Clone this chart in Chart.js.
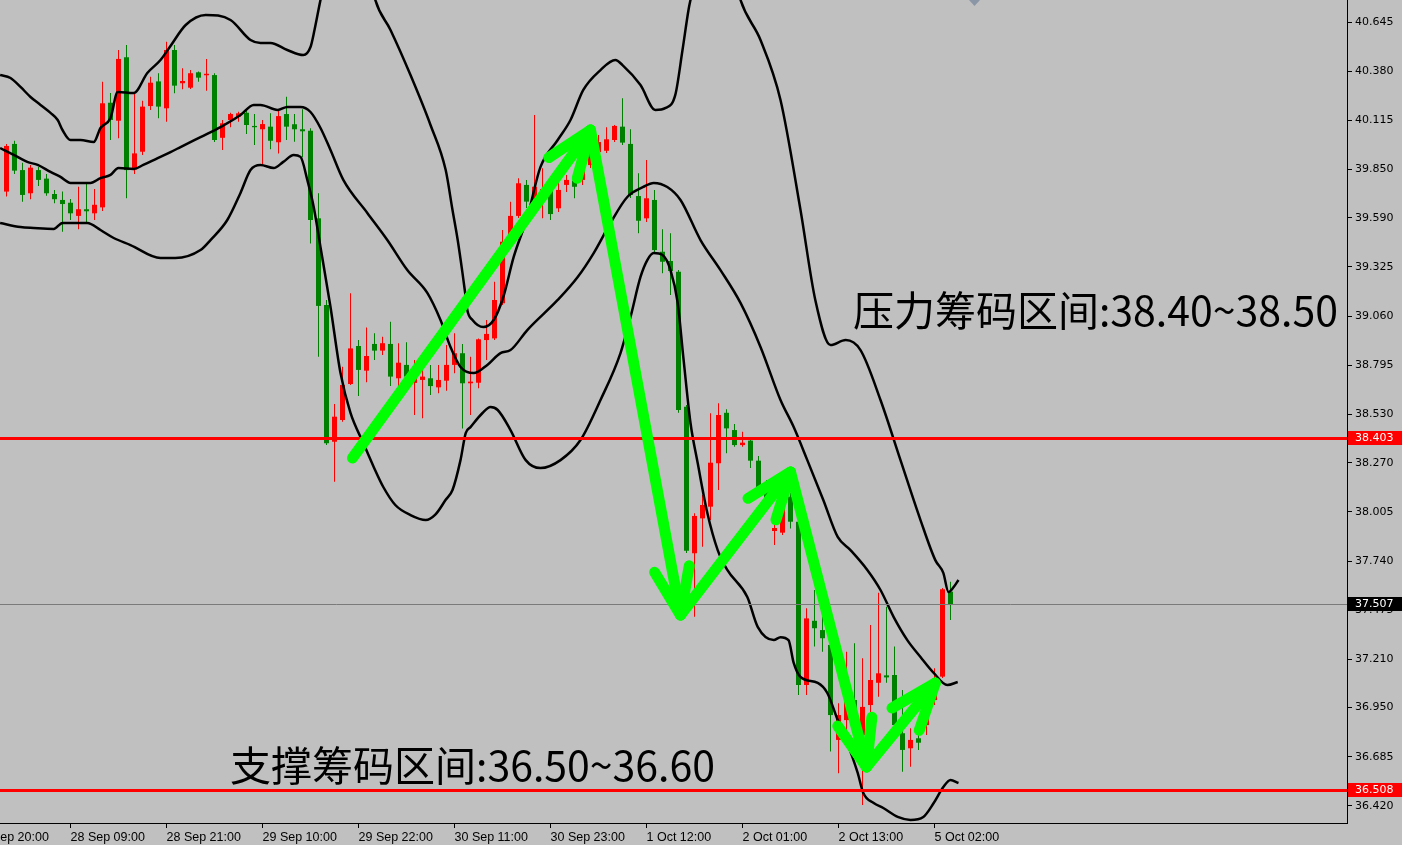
<!DOCTYPE html>
<html><head><meta charset="utf-8">
<script src="https://cdn.jsdelivr.net/npm/chart.js@4.4.1/dist/chart.umd.min.js"></script>
<style>html,body{margin:0;padding:0;background:#c0c0c0;overflow:hidden}canvas{display:block}</style>
</head><body>
<canvas id="c" width="1402" height="845"></canvas>
<script>
// ---- candle data (H1 bars, index 0..118) ----
const openP = [39.731,39.988,39.847,39.722,39.847,39.801,39.718,39.686,39.671,39.600,
39.636,39.614,39.646,40.210,40.113,40.455,39.851,39.946,40.192,40.325,
40.180,40.494,40.315,40.291,40.374,40.358,40.359,40.021,40.117,40.135,
40.156,40.085,40.067,40.081,39.997,40.149,40.094,40.067,40.059,39.587,
39.120,38.383,38.500,38.694,38.899,38.766,38.910,38.874,38.910,38.725,
38.797,38.700,38.716,38.725,38.676,38.712,38.797,38.860,38.698,38.701,
38.931,38.940,39.129,39.479,39.600,39.767,39.682,39.736,39.740,39.641,
39.767,39.790,39.794,39.874,39.944,39.951,40.009,40.081,39.988,39.707,
39.587,39.686,39.407,39.357,39.299,38.572,37.782,37.970,38.033,38.267,
38.539,38.446,38.365,38.389,38.281,38.123,37.902,37.893,38.087,37.952,
37.072,37.418,37.368,37.288,36.776,36.883,36.991,36.802,36.964,37.084,
37.124,37.126,36.812,36.731,36.785,36.856,36.991,37.117,37.575];
const highP = [39.988,40.005,39.887,39.874,39.864,39.826,39.740,39.731,39.691,39.757,
39.772,39.745,40.323,40.262,40.494,40.521,40.257,40.221,40.350,40.369,
40.539,40.521,40.396,40.386,40.378,40.446,40.369,40.117,40.156,40.162,
40.165,40.149,40.117,40.153,40.167,40.242,40.149,40.175,40.072,39.722,
39.147,38.586,38.787,39.183,38.931,38.998,38.967,38.949,39.030,38.914,
38.919,38.823,38.861,38.797,38.797,38.904,38.967,38.910,38.841,38.940,
39.039,39.245,39.524,39.677,39.803,39.794,40.144,39.857,39.757,39.783,
39.821,39.815,39.901,40.009,40.036,40.078,40.090,40.234,40.067,39.830,
39.901,39.740,39.528,39.506,39.308,38.581,37.997,38.096,38.536,38.590,
38.558,38.479,38.437,38.409,38.306,38.177,37.961,38.096,38.107,37.961,
37.485,37.584,37.440,37.314,36.973,37.251,37.297,37.216,37.395,37.569,
37.494,37.279,37.045,36.839,36.813,36.991,37.162,37.595,37.629];
const lowP = [39.704,39.826,39.677,39.690,39.761,39.709,39.668,39.515,39.578,39.528,
39.563,39.578,39.626,40.009,40.018,39.695,39.826,39.928,40.171,40.126,
40.108,40.261,40.282,40.284,40.323,40.275,39.998,39.955,40.078,40.108,
40.041,39.982,39.878,39.959,39.937,40.009,40.000,39.916,39.452,38.841,
38.365,38.168,38.491,38.689,38.630,38.703,38.823,38.850,38.683,38.680,
38.707,38.527,38.509,38.635,38.644,38.658,38.752,38.455,38.527,38.671,
38.823,38.931,39.120,39.470,39.589,39.643,39.659,39.587,39.578,39.621,
39.729,39.695,39.767,39.858,39.923,39.939,39.998,39.982,39.697,39.506,
39.567,39.400,39.291,39.174,38.539,37.783,37.440,37.817,37.961,38.123,
38.321,38.356,38.356,38.241,38.096,38.042,37.826,37.880,37.916,37.018,
37.018,37.279,37.251,36.713,36.596,36.830,36.704,36.425,36.926,37.009,
37.084,36.776,36.605,36.632,36.722,36.802,36.964,37.110,37.422];
const closeP = [39.977,39.844,39.713,39.860,39.794,39.722,39.690,39.664,39.614,39.636,
39.625,39.660,40.207,40.117,40.446,39.847,39.937,40.189,40.318,40.189,
40.494,40.302,40.327,40.369,40.345,40.366,40.009,40.099,40.149,40.153,
40.090,40.078,40.095,40.005,40.138,40.081,40.067,40.056,39.578,39.115,
38.375,38.518,38.689,38.886,38.770,38.845,38.874,38.914,38.734,38.809,
38.734,38.737,38.734,38.683,38.716,38.797,38.860,38.698,38.707,38.935,
38.964,39.147,39.461,39.600,39.776,39.677,39.757,39.745,39.610,39.740,
39.794,39.757,39.847,39.955,39.998,40.013,40.085,39.995,39.713,39.574,
39.695,39.416,39.353,39.303,38.554,37.796,37.983,38.042,38.270,38.527,
38.455,38.365,38.378,38.281,38.119,38.069,37.918,38.069,37.952,37.072,
37.431,37.378,37.324,36.910,36.910,36.991,36.830,36.954,37.099,37.135,
37.113,36.856,36.722,36.776,36.761,36.964,37.072,37.588,37.507];

// ---- Bollinger bands: [bar index, price] ----
const bandUpper = [[-0.8,40.359],[0.5,40.343],[1.75,40.295],[3,40.241],[4.25,40.198],[5.5,40.155],[6.4,40.117],[7,40.063],[8,40.009],[9.25,40.009],[10.9,39.998],[11.75,40.074],[13,40.128],[13.9,40.268],[15.9,40.262],[17.6,40.370],[19.25,40.440],[20.5,40.516],[22.4,40.629],[24.9,40.683],[28,40.656],[30.5,40.548],[31.75,40.532],[33,40.532],[35.1,40.494],[37.1,40.467],[38,40.510],[38.5,40.602],[39.25,40.764],[40.5,41.0],[43,41.15],[45.2,40.95],[46.1,40.764],[48,40.602],[50.5,40.359],[53,40.090],[54.9,39.847],[55.75,39.632],[56.4,39.470],[57,39.292],[57.4,39.163],[57.6,39.093],[58.25,39.039],[59.6,39.001],[60.9,39.039],[62.1,39.163],[63.4,39.379],[65.1,39.594],[66.75,39.864],[68.9,40.009],[70.5,40.117],[72.1,40.279],[74.25,40.386],[76.1,40.440],[77,40.413],[79.25,40.305],[81.1,40.171],[82.4,40.182],[83.6,40.252],[84.5,40.494],[85.25,40.710],[85.5,40.764],[87,41.05],[89,41.1],[91,40.9],[91.75,40.764],[94.25,40.548],[96.75,40.225],[99.25,39.632],[101.1,39.147],[103,38.904],[104.9,38.931],[106.75,38.877],[109.25,38.608],[111.75,38.284],[114.25,37.961],[116.1,37.745],[117.1,37.676],[117.75,37.573],[118.4,37.600],[119,37.638]];
const bandMiddle = [[-0.8,39.966],[0.9,39.929],[2.6,39.891],[3.9,39.875],[5.5,39.837],[6.75,39.810],[8,39.778],[10.5,39.778],[11.75,39.804],[13,39.821],[14,39.858],[15.9,39.853],[17.1,39.875],[18.9,39.912],[20.5,39.944],[21.75,39.971],[24.25,40.025],[26.75,40.079],[29.25,40.144],[30.9,40.198],[31.75,40.198],[33.9,40.171],[35.1,40.187],[36.75,40.187],[38,40.160],[39.25,40.074],[40.5,39.955],[42.1,39.794],[45.1,39.616],[47.6,39.470],[50.1,39.308],[52.6,39.185],[54.25,39.039],[55.5,38.894],[56.75,38.786],[58.4,38.753],[60.1,38.797],[61.75,38.861],[63,38.877],[65.1,38.985],[68.9,39.147],[71.4,39.271],[73.4,39.400],[75.5,39.562],[77.6,39.702],[79.6,39.756],[80.9,39.778],[82.6,39.756],[84.25,39.686],[86.75,39.470],[89.25,39.308],[91.75,39.131],[94.25,38.894],[96.75,38.608],[98.4,38.462],[100.1,38.284],[102.1,38.069],[103.9,37.870],[105.5,37.799],[107.6,37.692],[109.25,37.584],[110.9,37.438],[112.6,37.314],[114.25,37.223],[115.9,37.137],[117.6,37.072],[118.9,37.088]];
const bandLower = [[-0.8,39.562],[1.75,39.540],[3.4,39.535],[5.9,39.530],[7,39.562],[8.9,39.562],[10.1,39.562],[11.75,39.524],[13.4,39.481],[15.5,39.443],[19.25,39.373],[21.1,39.373],[24.25,39.416],[25.5,39.470],[27.6,39.578],[29.25,39.724],[30.5,39.847],[31.75,39.874],[33.4,39.858],[34.6,39.891],[35.9,39.928],[36.75,39.918],[37.6,39.794],[38.4,39.648],[39.25,39.432],[40.5,39.109],[41.75,38.753],[43,38.538],[44.6,38.376],[45.9,38.247],[47.1,38.139],[48.6,38.042],[50.5,37.988],[52.4,37.961],[53.6,37.990],[54.9,38.070],[55.75,38.123],[56.75,38.284],[57.4,38.430],[58,38.462],[59.5,38.538],[60.5,38.570],[61.4,38.554],[63,38.446],[64.9,38.284],[66.75,38.241],[69.25,38.284],[71.75,38.392],[74.25,38.608],[76.75,38.861],[78,39.055],[79.25,39.271],[80.1,39.362],[80.9,39.400],[82,39.389],[83,39.308],[83.9,39.131],[84.6,38.840],[85.5,38.484],[86.4,38.268],[87.6,38.000],[88.9,37.799],[90.1,37.692],[92.6,37.546],[93.9,37.385],[95.9,37.314],[96.75,37.330],[97.75,37.314],[98.4,37.191],[99.25,37.115],[101.4,37.083],[102.6,37.029],[103.9,36.883],[105.1,36.759],[106.4,36.598],[107.1,36.490],[108.4,36.436],[109.6,36.409],[111.4,36.361],[113,36.345],[114.6,36.361],[115.9,36.436],[117.1,36.522],[118,36.560],[119,36.544]];

// ---- axes ----
const xTickIdx = [-4,8,20,32,44,56,68,80,92,104,116];
const xTickLabels = ['27 Sep 20:00','28 Sep 09:00','28 Sep 21:00','29 Sep 10:00','29 Sep 22:00','30 Sep 11:00','30 Sep 23:00','1 Oct 12:00','2 Oct 01:00','2 Oct 13:00','5 Oct 02:00'];
const yTickValues = [40.645,40.380,40.115,39.850,39.590,39.325,39.060,38.795,38.530,38.270,38.005,37.740,37.475,37.210,36.950,36.685,36.420];

// ---- annotations ----
const levelLines = [38.403, 36.508];
const bidPrice = 37.507;
const arrowPath = [[43.25,38.295],[73,40.063],[84.25,37.449],[98,38.220],[107.5,36.630],[116.1,37.083]];
const noteTexts = ['压力筹码区间:38.40~38.50','支撑筹码区间:36.50~36.60'];
const noteAnchors = [[105.8,39.093],[27.94,36.641]];
const shiftMarkerIdx = 121;

const RED = '#ff0000', GREEN = '#008000';
const candleColor = (i) => closeP[i] >= openP[i] ? RED : GREEN;

const wickData = openP.map((o,i)=>({x:i, y:[lowP[i], highP[i]]}));
const bodyData = openP.map((o,i)=>({x:i, y:[o, closeP[i]]}));
const toXY = arr => arr.map(p=>({x:p[0], y:p[1]}));

const overlay = {
  id:'overlay',
  afterDraw(chart){
    const {ctx, chartArea:a, scales:{x, y}} = chart;
    ctx.save();
    ctx.beginPath(); ctx.rect(a.left, a.top, a.right-a.left, a.bottom-a.top); ctx.clip();
    // bid line
    const by = Math.round(y.getPixelForValue(bidPrice)) + 0.5;
    ctx.strokeStyle = '#7a7a7a'; ctx.lineWidth = 1;
    ctx.beginPath(); ctx.moveTo(a.left, by); ctx.lineTo(a.right, by); ctx.stroke();
    // level lines
    ctx.strokeStyle = RED; ctx.lineWidth = 3;
    levelLines.forEach(v=>{
      const p = Math.round(y.getPixelForValue(v)) + 0.5;
      ctx.beginPath(); ctx.moveTo(a.left, p); ctx.lineTo(a.right, p); ctx.stroke();
    });
    // shift marker
    const sx = x.getPixelForValue(shiftMarkerIdx);
    ctx.fillStyle = '#8a96a6';
    ctx.beginPath(); ctx.moveTo(sx-5.5, a.top); ctx.lineTo(sx+5.5, a.top); ctx.lineTo(sx, a.top+6); ctx.closePath(); ctx.fill();
    // arrows
    ctx.strokeStyle = '#00ff00'; ctx.lineWidth = 11; ctx.lineCap = 'round'; ctx.lineJoin = 'round';
    for (let i=1;i<arrowPath.length;i++){
      const x0 = x.getPixelForValue(arrowPath[i-1][0]), y0 = y.getPixelForValue(arrowPath[i-1][1]);
      const x1 = x.getPixelForValue(arrowPath[i][0]), y1 = y.getPixelForValue(arrowPath[i][1]);
      ctx.beginPath(); ctx.moveTo(x0,y0); ctx.lineTo(x1,y1); ctx.stroke();
      const back = Math.atan2(y0-y1, x0-x1), L = 50, s = 0.36;
      ctx.beginPath();
      ctx.moveTo(x1 + L*Math.cos(back+s), y1 + L*Math.sin(back+s));
      ctx.lineTo(x1, y1);
      ctx.lineTo(x1 + L*Math.cos(back-s), y1 + L*Math.sin(back-s));
      ctx.stroke();
    }
    // notes
    ctx.fillStyle = '#000'; ctx.font = '41px "Noto Sans CJK SC"'; ctx.textBaseline = 'middle'; ctx.textAlign = 'left';
    noteTexts.forEach((t,i)=>{
      ctx.fillText(t, x.getPixelForValue(noteAnchors[i][0]), y.getPixelForValue(noteAnchors[i][1]));
    });
    ctx.restore();
    // price tags on axis
    ctx.save();
    ctx.font = '11px "DejaVu Sans"'; ctx.textBaseline = 'middle'; ctx.textAlign = 'left';
    const tag = (v, bg) => {
      const p = Math.round(y.getPixelForValue(v));
      ctx.fillStyle = bg; ctx.fillRect(a.right+1, p-7, chart.width-a.right-1, 14);
      ctx.fillStyle = '#ffffff'; ctx.fillText(v.toFixed(3), a.right+8, p+0.5);
    };
    levelLines.forEach(v=>tag(v, RED));
    tag(bidPrice, '#000000');
    ctx.restore();
  }
};

new Chart(document.getElementById('c'), {
  type: 'bar',
  data: {
    datasets: [
      {type:'line', data: toXY(bandUpper), borderColor:'#000', borderWidth:2.5, pointRadius:0, cubicInterpolationMode:'monotone', order:1},
      {type:'line', data: toXY(bandMiddle), borderColor:'#000', borderWidth:2.5, pointRadius:0, cubicInterpolationMode:'monotone', order:1},
      {type:'line', data: toXY(bandLower), borderColor:'#000', borderWidth:2.5, pointRadius:0, cubicInterpolationMode:'monotone', order:1},
      {data: bodyData, grouped:false, barThickness:5, minBarLength:1, inflateAmount:0, borderWidth:0,
       backgroundColor: c => candleColor(c.dataIndex), order:2},
      {data: wickData, grouped:false, barThickness:1, inflateAmount:0, borderWidth:0,
       backgroundColor: c => candleColor(c.dataIndex), order:3}
    ]
  },
  options: {
    responsive:false, animation:false, devicePixelRatio:1,
    layout:{padding:0},
    plugins:{legend:{display:false}, tooltip:{enabled:false}},
    scales:{
      x:{
        type:'linear', min:-0.8125, max:167.5625, offset:false, position:'bottom',
        grid:{drawOnChartArea:false, drawTicks:true, tickLength:5, color:'#000', offset:false},
        border:{display:true, color:'#000', width:1},
        ticks:{autoSkip:false, maxRotation:0, minRotation:0, align:'start', padding:2, color:'#000',
          font:{family:'"Liberation Sans"', size:12.5},
          callback:(v)=>{const i = xTickIdx.indexOf(v); return i>=0 ? xTickLabels[i] : '';}},
        afterBuildTicks:(s)=>{ s.ticks = xTickIdx.map(v=>({value:v})); },
        afterFit:(s)=>{ s.height = 22; s.paddingLeft = 0; s.paddingRight = 0; }
      },
      y:{
        type:'linear', position:'right', min:36.3283, max:40.7636,
        grid:{drawOnChartArea:false, drawTicks:true, tickLength:5, color:'#000'},
        border:{display:true, color:'#000', width:1},
        ticks:{autoSkip:false, padding:3, color:'#000', font:{family:'"DejaVu Sans"', size:11},
          callback:(v)=>Number(v).toFixed(3)},
        afterBuildTicks:(s)=>{ s.ticks = yTickValues.map(v=>({value:v})); },
        afterFit:(s)=>{ s.width = 55; s.paddingTop = 0; s.paddingBottom = 0; }
      }
    }
  },
  plugins:[overlay]
});
</script>
</body></html>
